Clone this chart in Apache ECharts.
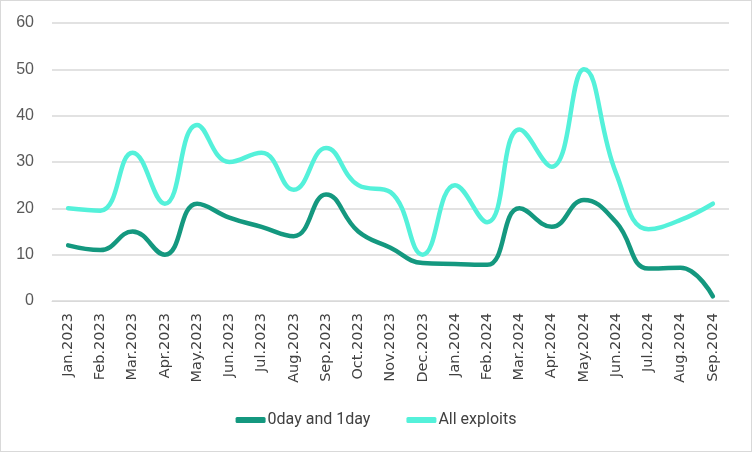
<!DOCTYPE html>
<html><head><meta charset="utf-8">
<script src="https://cdn.jsdelivr.net/npm/echarts@6/dist/echarts.min.js"></script>
<style>
html,body{margin:0;padding:0;background:#fff;}
#c{width:750px;height:450px;border:1px solid #d9d9d9;}
</style></head>
<body><div id="c"></div>
<script>
const categories = ["Jan.2023","Feb.2023","Mar.2023","Apr.2023","May.2023","Jun.2023","Jul.2023","Aug.2023","Sep.2023","Oct.2023","Nov.2023","Dec.2023","Jan.2024","Feb.2024","Mar.2024","Apr.2024","May.2024","Jun.2024","Jul.2024","Aug.2024","Sep.2024"];
const zeroOneDay = [12,11,15,10,21,18,16,14,23,15,11.5,8.2,8,7.8,20,16,21.8,17,7,7.2,1];
const allExploits = [20,19.5,32,21,38,30,32,24,33,25,23.5,10,25,17,37,29,50,27.5,15.5,17.5,21];
const yTicks = {min:0, max:60, interval:10};

const chart = echarts.init(document.getElementById('c'));
chart.setOption({
  animation:false,
  grid:{left:51, right:22, top:22, bottom:150},
  legend:{
    bottom:18, left:'center', itemWidth:30, itemHeight:6, itemGap:36,
    textStyle:{fontFamily:'Roboto', fontSize:16, color:'#404040', padding:[0,0,0,-3]},
    data:[{name:'0day and 1day', icon:'roundRect'},{name:'All exploits', icon:'roundRect'}]
  },
  xAxis:{
    type:'category', data:categories, boundaryGap:true,
    axisLine:{show:true, lineStyle:{color:'#d9d9d9', width:1}},
    axisTick:{show:false},
    axisLabel:{rotate:90, interval:0, margin:12, fontFamily:'DejaVu Sans', fontSize:14.5, color:'#404040'}
  },
  yAxis:{
    type:'value', min:yTicks.min, max:yTicks.max, interval:yTicks.interval,
    axisLine:{show:false}, axisTick:{show:false},
    splitLine:{lineStyle:{color:'#d9d9d9', width:1.5}},
    axisLabel:{margin:18, fontFamily:'Liberation Sans', fontSize:16, color:'#595959'}
  },
  series:[
    {name:'0day and 1day', type:'line', data:zeroOneDay, smooth:0.45, symbol:'none',
     lineStyle:{width:4.5, color:'#14987f', cap:'round'}, itemStyle:{color:'#14987f'}},
    {name:'All exploits', type:'line', data:allExploits, smooth:0.45, symbol:'none',
     lineStyle:{width:4.5, color:'#54f1da', cap:'round'}, itemStyle:{color:'#54f1da'}}
  ]
});
</script></body></html>
